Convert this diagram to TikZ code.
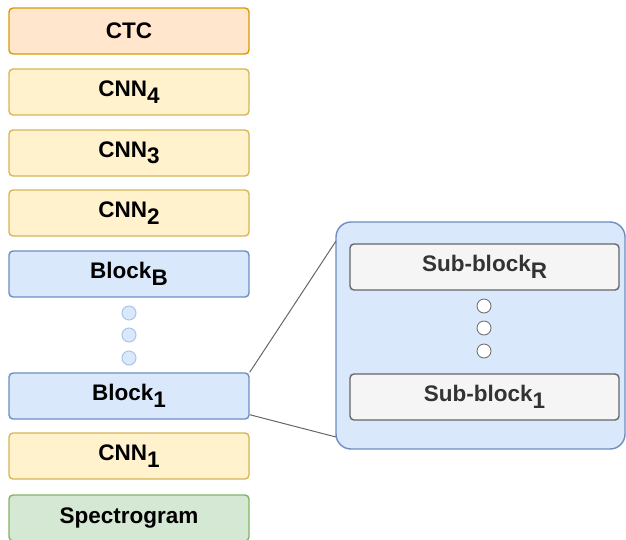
\documentclass[tikz,border=0pt]{standalone}
\usepackage{fontspec}
\setmainfont{Liberation Sans}
\usepackage{xcolor}
\usetikzlibrary{positioning}

\definecolor{ctcfill}{HTML}{FFE6CC}
\definecolor{ctcline}{HTML}{D79B00}
\definecolor{cnnfill}{HTML}{FFF2CC}
\definecolor{cnnline}{HTML}{D6B656}
\definecolor{blkfill}{HTML}{DAE8FC}
\definecolor{blkline}{HTML}{6C8EBF}
\definecolor{dotline}{HTML}{A9C4EB}
\definecolor{specfill}{HTML}{D5E8D4}
\definecolor{specline}{HTML}{82B366}
\definecolor{subfill}{HTML}{F5F5F5}
\definecolor{subline}{HTML}{666666}
\definecolor{subtext}{HTML}{333333}

\newcommand{\low}[1]{\raisebox{-6.5pt}{#1}}

\begin{document}
\begin{tikzpicture}[x=1pt, y=-1pt,
  layer/.style = {draw, line width=1.4pt, rounded corners=4pt, minimum width=240pt,
    minimum height=46pt, inner sep=0pt, font=\fontsize{22.5}{22.5}\selectfont\bfseries},
  ctc/.style = {layer, fill=ctcfill, draw=ctcline},
  cnn/.style = {layer, fill=cnnfill, draw=cnnline},
  blk/.style = {layer, fill=blkfill, draw=blkline},
  spec/.style = {layer, fill=specfill, draw=specline},
  subblk/.style = {layer, fill=subfill, draw=subline, text=subtext, minimum width=269pt},
  dot/.style = {circle, draw=dotline, fill=blkfill, line width=1pt, minimum size=14pt, inner sep=0pt},
  subdot/.style = {circle, draw=subline, fill=white, line width=0.8pt, minimum size=14pt, inner sep=0pt}]
\useasboundingbox (0,0) rectangle (626,539);

% left stack
\node [ctc] (ctc) at (129,31) {CTC};
\node [cnn] (cnn4) at (129,92) {CNN\low{4}};
\node [cnn] (cnn3) at (129,153) {CNN\low{3}};
\node [cnn] (cnn2) at (129,213) {CNN\low{2}};
\node [blk] (blkb) at (129,274) {Block\low{B}};
\node [dot] (d1) at (129,313) {};
\node [dot] (d2) at (129,335) {};
\node [dot] (d3) at (129,358) {};
\node [blk] (blk1) at (129,396) {Block\low{1}};
\node [cnn] (cnn1) at (129,456) {CNN\low{1}};
\node [spec] (spec) at (129,518) {Spectrogram};

% zoomed block
\node [draw=blkline, fill=blkfill, line width=1.4pt, rounded corners=15pt,
  minimum width=289pt, minimum height=227pt, inner sep=0pt] (zoom) at (480.5,335.5) {};
\node [subblk] (subr) at (484.5,267) {Sub-block\low{R}};
\node [subdot] (s1) at (484,306) {};
\node [subdot] (s2) at (484,328) {};
\node [subdot] (s3) at (484,351) {};
\node [subblk] (sub1) at (484.5,397) {Sub-block\low{1}};

\coordinate (zt) at (336,241);
\coordinate (zb) at (336,437);
\draw [subline, line width=1pt] (blk1.north east) -- (zt);
\draw [subline, line width=1pt] ([yshift=5pt]blk1.south east) -- (zb);
\end{tikzpicture}
\end{document}
